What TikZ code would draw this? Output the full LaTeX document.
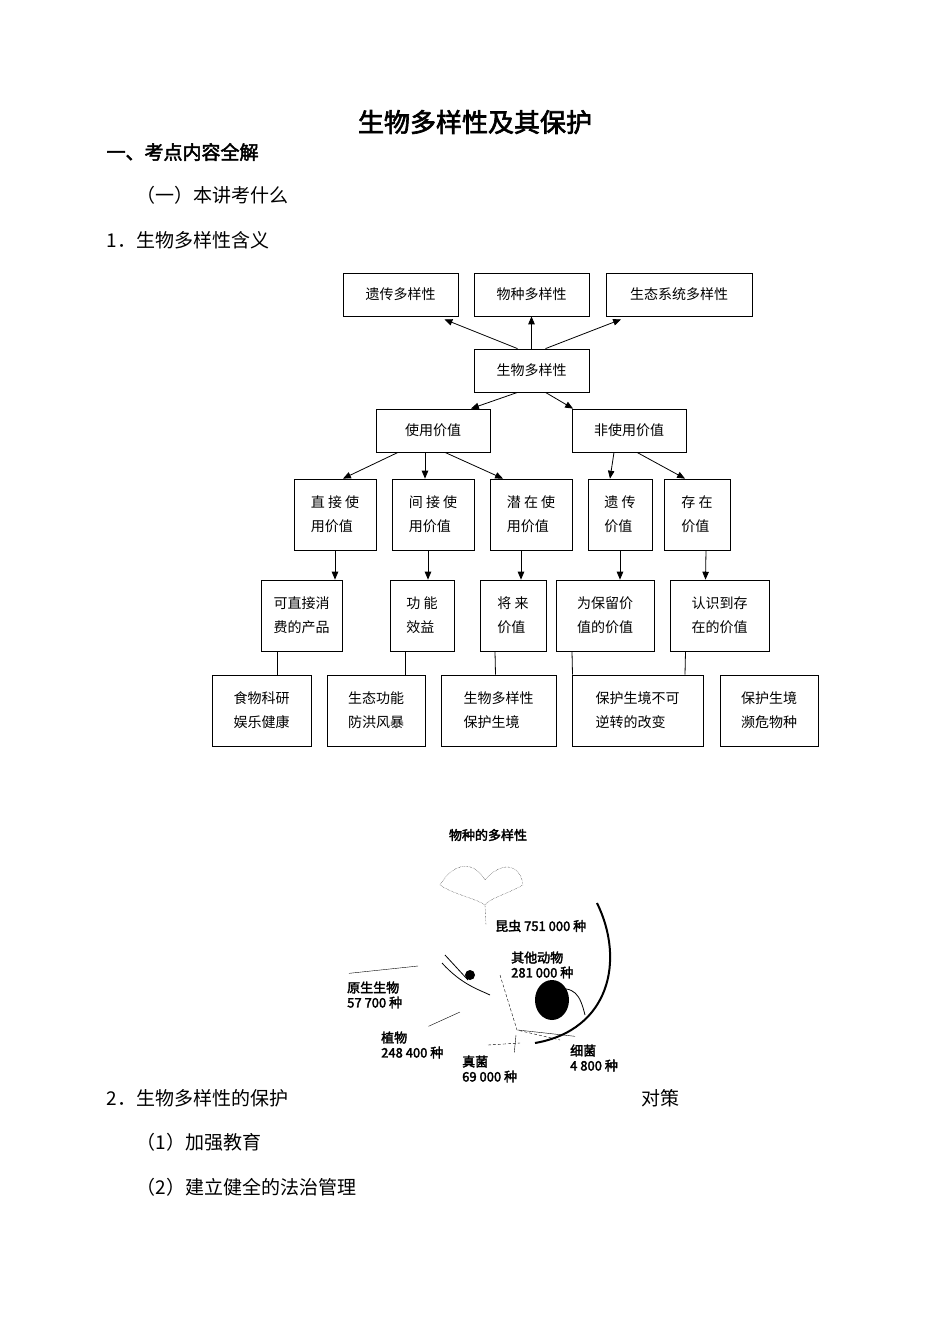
\documentclass[tikz,border=0pt]{standalone}
\usepackage{fontspec}
\setmainfont{Noto Sans CJK SC}[AutoFakeBold=2.5]
\usetikzlibrary{arrows}
\usetikzlibrary{calc}

\begin{document}
\begin{tikzpicture}[x=1pt,y=-1pt,
      box/.style={draw, thick, inner sep=0pt, font=\fontsize{14}{24}\selectfont},
      arr/.style={thick, -triangle 45},
      plain line/.style={thick},
      body text/.style={anchor=west, font=\fontsize{19}{22}\selectfont},
      pic label/.style={font=\bfseries\fontsize{13}{15}\selectfont, align=left, inner sep=0pt}
      ]
      \useasboundingbox (0,0) rectangle (950,1342);
      % headings
      \node[font=\bfseries\fontsize{26}{30}\selectfont] (Title) at (475,122) {生物多样性及其保护};
      \node[body text, font=\bfseries\fontsize{19}{22}\selectfont] (HeadA) at (103,152) {一、考点内容全解};
      \node[body text] (HeadB) at (133,195) {（一）本讲考什么};
      \node[body text] (HeadC) at (103,240) {1．生物多样性含义};

      % top row
      \node[box, minimum width=115, minimum height=43] (Genetic) at (400.5,294.5) {遗传多样性};
      \node[box, minimum width=115, minimum height=43] (Species) at (531.5,294.5) {物种多样性};
      \node[box, minimum width=146, minimum height=43] (Ecosys) at (679,294.5) {生态系统多样性};
      \node[box, minimum width=115, minimum height=43] (Bio) at (531.5,370.5) {生物多样性};
      \node[box, minimum width=114, minimum height=43] (Use) at (433,430.5) {使用价值};
      \node[box, minimum width=114, minimum height=43] (NonUse) at (629,430.5) {非使用价值};

      \draw[arr] ($(Bio.north)+(-14,0)$) -- ($(Genetic.south)+(44,3)$);
      \draw[arr] (Bio.north) -- (Species.south);
      \draw[arr] ($(Bio.north)+(14,0)$) -- ($(Ecosys.south)+(-58,3)$);
      \draw[arr] ($(Bio.south)+(-14,0)$) -- ($(Use.north)+(38,0)$);
      \draw[arr] ($(Bio.south)+(14,0)$) -- ($(NonUse.north)+(-56,0)$);

      % value row
      \node[box, minimum width=82, minimum height=71, align=left] (Direct) at (335,514.5) {直 接 使\\用价值};
      \node[box, minimum width=82, minimum height=71, align=left] (Indirect) at (433,514.5) {间 接 使\\用价值};
      \node[box, minimum width=82, minimum height=71, align=left] (Latent) at (531,514.5) {潜 在 使\\用价值};
      \node[box, minimum width=64, minimum height=71, align=left] (Heredity) at (620,514.5) {遗 传\\价值};
      \node[box, minimum width=66, minimum height=71, align=left] (Exist) at (697,514.5) {存 在\\价值};

      \draw[arr] ($(Use.south)+(-35,0)$) -- ($(Direct.north)+(8,0)$);
      \draw[arr] ($(Use.south)+(-8,0)$) -- ($(Indirect.north)+(-8,0)$);
      \draw[arr] ($(Use.south)+(12,0)$) -- ($(Latent.north)+(-28,0)$);
      \draw[arr] ($(NonUse.south)+(-15,0)$) -- ($(Heredity.north)+(-10,0)$);
      \draw[arr] ($(NonUse.south)+(8,0)$) -- ($(Exist.north)+(-12,0)$);

      % meaning row
      \node[box, minimum width=81, minimum height=71, align=left] (Consume) at (301.5,615.5) {可直接消\\费的产品};
      \node[box, minimum width=64, minimum height=71, align=left] (Function) at (422,615.5) {功 能\\效益};
      \node[box, minimum width=66, minimum height=71, align=left] (Future) at (513,615.5) {将 来\\价值};
      \node[box, minimum width=98, minimum height=71, align=left] (Keep) at (605,615.5) {为保留价\\值的价值};
      \node[box, minimum width=99, minimum height=71, align=left] (Know) at (719.5,615.5) {认识到存\\在的价值};

      \draw[arr] (Direct.south) -- (Direct.south |- Consume.north);
      \draw[arr] ($(Indirect.south)+(-5,0)$) -- ($(Function.north)+(6,0)$);
      \draw[arr] ($(Latent.south)+(-10,0)$) -- ($(Future.north)+(8,0)$);
      \draw[arr] (Heredity.south) -- ($(Keep.north)+(15,0)$);
      \draw[arr] ($(Exist.south)+(9,0)$) -- ($(Know.north)+(-14,0)$);

      % example row
      \node[box, minimum width=99, minimum height=71, align=left] (Food) at (261.5,710.5) {食物科研\\娱乐健康};
      \node[box, minimum width=98, minimum height=71, align=left] (Eco) at (376,710.5) {生态功能\\防洪风暴};
      \node[box, minimum width=115, minimum height=71, align=left] (Habitat) at (498.5,710.5) {生物多样性\\保护生境};
      \node[box, minimum width=131, minimum height=71, align=left] (Irrev) at (637.5,710.5) {保护生境不可\\逆转的改变};
      \node[box, minimum width=98, minimum height=71, align=left] (Endanger) at (769,710.5) {保护生境\\濒危物种};

      \draw[plain line] ($(Consume.south)+(-24,0)$) -- ($(Food.north)+(16,0)$);
      \draw[plain line] ($(Function.south)+(-17,0)$) -- ($(Eco.north)+(29,0)$);
      \draw[plain line] ($(Future.south)+(-18,0)$) -- ($(Habitat.north)+(-3,0)$);
      \draw[plain line] ($(Keep.south)+(-33,0)$) -- ($(Irrev.north)+(-65,0)$);
      \draw[plain line] ($(Know.south)+(-34,0)$) -- ($(Endanger.north)+(-84,0)$);

      % species picture
      \node[pic label] (PicTitle) at (488,835) {物种的多样性};
      \draw[line width=2pt] (597,903) .. controls (625,960) and (610,1030) .. (535,1043);
      \draw[densely dotted] (440,885) .. controls (455,860) and (475,862) .. (485,880) .. controls (500,862) and (520,862) .. (523,885) .. controls (505,895) and (490,898) .. (485,905) .. controls (475,898) and (455,895) .. (440,885);
      \draw[densely dotted] (485,905) -- (486,925);
      \draw[thick] (442,963) .. controls (462,985) and (480,990) .. (490,995);
      \draw[thick] (445,955) -- (468,980);
      \fill (470,975) circle (5);
      \fill (552,1000) ellipse (17 and 20);
      \draw[thick] (552,990) .. controls (575,985) and (580,995) .. (585,1015);
      \draw[densely dashed] (500,975) -- (517,1030) -- (560,1040);
      \draw[densely dashed] (488,1045) -- (520,1043);

      \node[pic label, anchor=west] (Insect) at (495,926) {昆虫 751 000 种};
      \node[pic label, anchor=west] (Animal) at (511,965) {其他动物\\281 000 种};
      \node[pic label, anchor=west] (Protist) at (347,995) {原生生物\\57 700 种};
      \node[pic label, anchor=west] (Plant) at (381,1045) {植物\\248 400 种};
      \node[pic label, anchor=west] (Fungi) at (462,1069) {真菌\\69 000 种};
      \node[pic label, anchor=west] (Bact) at (570,1058) {细菌\\4 800 种};
      \coordinate (ProtistEnd) at (418,966);
      \coordinate (PlantEnd) at (460,1012);
      \coordinate (FungiEnd) at (516,1035);
      \coordinate (BactEnd) at (518,1030);
      \draw (Protist.north west) ++(2,-8) -- (ProtistEnd);
      \draw (Plant.north east) ++(-15,-5) -- (PlantEnd);
      \draw (Fungi.north east) ++(-3,-3) -- (FungiEnd);
      \draw (Bact.north west) ++(5,-8) -- (BactEnd);

      % protection
      \node[body text] (HeadD) at (103,1098) {2．生物多样性的保护};
      \node[body text] (Policy) at (638,1098) {对策};
      \node[body text] (ItemA) at (133,1142) {（1）加强教育};
      \node[body text] (ItemB) at (133,1187) {（2）建立健全的法治管理};
    \end{tikzpicture}
\end{document}
